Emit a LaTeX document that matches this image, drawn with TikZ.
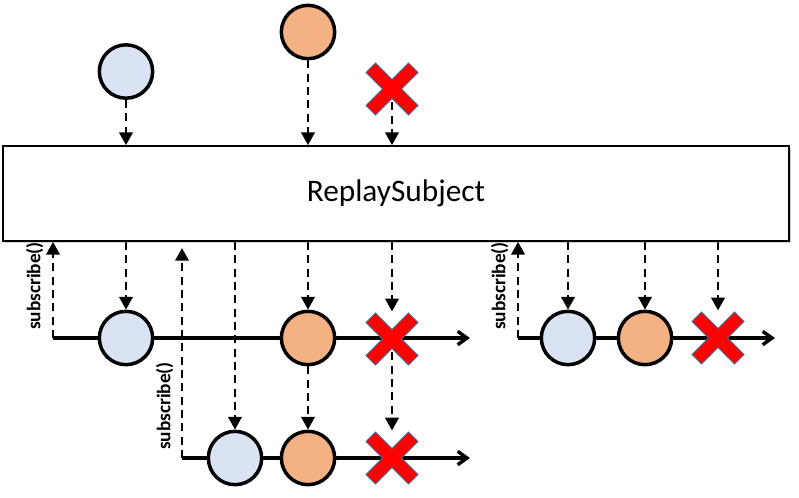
\documentclass[tikz,border=0pt]{standalone}
\usepackage{fontspec}
\setmainfont{Carlito}
\usetikzlibrary{arrows.meta,shadows,backgrounds}

\definecolor{evblue}{HTML}{DAE3F3}
\definecolor{evorange}{HTML}{F4B183}
\definecolor{evred}{HTML}{FF0000}
\definecolor{evrededge}{HTML}{41719C}

\tikzset{
	subject/.style={draw, line width=1.3pt, fill=white, minimum width=589.5pt, minimum height=71.25pt, inner sep=0pt,
		font=\fontsize{23.5}{26}\selectfont, drop shadow={shadow xshift=1.5pt, shadow yshift=-1.5pt, opacity=0.35}},
	event/.style={circle, draw, line width=2.6pt, minimum size=40pt, inner sep=0pt,
		drop shadow={shadow xshift=1.2pt, shadow yshift=-1.2pt, opacity=0.3}},
	blueev/.style={event, fill=evblue},
	orangeev/.style={event, fill=evorange},
	errev/.style={minimum size=41pt, inner sep=0pt, path picture={
		\fill[evred, draw=evrededge, line width=0.6pt, shift={(path picture bounding box.center)}]
			(-26,-16.5) -- (-16.5,-26) -- (0,-9.5) -- (16.5,-26) -- (26,-16.5) -- (9.5,0) -- (26,16.5)
			-- (16.5,26) -- (0,9.5) -- (-16.5,26) -- (-26,16.5) -- (-9.5,0) -- cycle;}},
	flow/.style={line width=1.9pt, dash pattern=on 6pt off 4pt, -{Triangle[width=10pt,length=9.5pt]}},
	timeline/.style={line width=2.6pt, -{Straight Barb[length=7pt,width=10pt]}},
	sublabel/.style={rotate=90, anchor=south, inner sep=1pt, font=\bfseries\fontsize{14.5}{16}\selectfont}
}

\begin{document}
\begin{tikzpicture}[x=0.75pt, y=-0.75pt]
	\useasboundingbox (0,0) rectangle (799,497);
	
	\node[subject] (subj) at (396,193.5) {ReplaySubject};
	
	\node[blueev] (b0) at (126,71.5) {};
	\node[orangeev] (o0) at (308,32) {};
	\node[errev] (x0) at (392,89) {};
	
	\coordinate (s1) at (53,338);
	\coordinate (e1) at (470,338);
	\node[blueev] (b1) at (126,338) {};
	\node[orangeev] (o1) at (308,338) {};
	\node[errev] (x1) at (392,339) {};
	\node[sublabel] (l1) at (45,286) {subscribe()};
	
	\coordinate (s2) at (182,458);
	\coordinate (t2) at (182,248);
	\coordinate (e2) at (470,458);
	\node[blueev] (b2) at (235,458) {};
	\node[orangeev] (o2) at (308,458) {};
	\node[errev] (x2) at (392,458) {};
	\node[sublabel] (l2) at (175,406) {subscribe()};
	
	\coordinate (s3) at (518,338);
	\coordinate (e3) at (775,338);
	\node[blueev] (b3) at (568,338) {};
	\node[orangeev] (o3) at (645,338) {};
	\node[errev] (x3) at (718,338) {};
	\node[sublabel] (l3) at (510,286) {subscribe()};
	
	\begin{scope}[on background layer]
		\draw[timeline] (s1) -- (e1);
		\draw[timeline] (s2) -- (e2);
		\draw[timeline] (s3) -- (e3);
		
		\draw[flow] (b0) -- (b0 |- subj.north);
		\draw[flow] (o0) -- (o0 |- subj.north);
		\draw[flow] (x0.center) -- (x0 |- subj.north);
		
		\draw[flow] (s1) -- (s1 |- subj.south);
		\draw[flow] (s2) -- (t2);
		\draw[flow] (s3) -- (s3 |- subj.south);
		
		\draw[flow] (b1 |- subj.south) -- (b1);
		\draw[flow] (o1 |- subj.south) -- (o1);
		\draw[flow] (x1 |- subj.south) -- (x1);
		
		\draw[flow] (b2 |- subj.south) -- (b2);
		\draw[flow] (o1) -- (o2);
		\draw[flow] (x1.center) -- (x2);
		
		\draw[flow] (b3 |- subj.south) -- (b3);
		\draw[flow] (o3 |- subj.south) -- (o3);
		\draw[flow] (x3 |- subj.south) -- (x3);
	\end{scope}
\end{tikzpicture}
\end{document}
